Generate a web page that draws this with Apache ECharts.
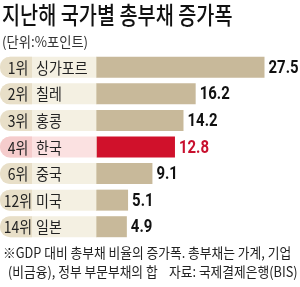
<!DOCTYPE html>
<html>
<head>
<meta charset="utf-8">
<script src="https://cdn.jsdelivr.net/npm/echarts@6/dist/echarts.min.js"></script>
<style>
html,body{margin:0;padding:0;background:#fff;}
#c{width:300px;height:287px;}
</style>
</head>
<body>
<div id="c"></div>
<script>
const ranks = ['1위','2위','3위','4위','6위','12위','14위'];
const countries = ['싱가포르','칠레','홍콩','한국','중국','미국','일본'];
const values = [27.5,16.2,14.2,12.8,9.1,5.1,4.9];
const highlight = '한국';
const titleText = '지난해 국가별 총부채 증가폭';
const unitText = '(단위:%포인트)';
const noteLine1 = '※GDP 대비 총부채 비율의 증가폭. 총부채는 가계, 기업';
const noteLine2 = '(비금융), 정부 부문부채의 합    자료: 국제결제은행(BIS)';

const KR = '"Noto Sans CJK KR", "Noto Sans", sans-serif';
const NUM = 'Roboto, "Liberation Sans", sans-serif';

const chart = echarts.init(document.getElementById('c'), null, {renderer:'canvas'});

const barData = values.map((v,i)=>({
  value: v,
  itemStyle: {color: countries[i]===highlight ? '#d0112b' : '#c8b99a'}
}));

function txt(t, x, y, size, weight, sx, color){
  return {type:'text', x:x, y:y, scaleX:sx, silent:true,
    style:{text:t, x:0, y:0, verticalAlign:'middle', align:'left',
      font: weight + ' ' + size + 'px ' + KR, fill: color}};
}

chart.setOption({
  animation: false,
  backgroundColor: '#fff',
  graphic: [
    txt(titleText, 2, 15, 24, 500, 0.82, '#111'),
    txt(unitText, 2, 42, 14, 400, 0.95, '#333'),
    txt(noteLine1, 3, 253, 14, 400, 0.91, '#222'),
    txt(noteLine2, 8, 272, 14, 400, 0.91, '#222')
  ],
  grid: {left: 97, right: 2, top: 54, bottom: 47, containLabel: false},
  xAxis: {type:'value', min: 0, max: 33, show: false},
  yAxis: {type:'category', data: countries, inverse: true, show: false},
  series: [
    {
      type: 'bar',
      data: barData,
      barWidth: 21
    },
    {
      type: 'custom',
      clip: false,
      data: values.map((v,i)=>[v,i]),
      encode: {x: 0, y: 1},
      renderItem: function(params, api){
        const i = params.dataIndex;
        const p = api.coord([0, api.value(1)]);
        const pe = api.coord([api.value(0), api.value(1)]);
        const h = 21;
        const x0 = p[0];
        const yTop = p[1] - h/2;
        const hl = countries[i]===highlight;
        return {
          type: 'group',
          children: [
            {type:'rect', shape:{x:0, y:yTop, width:x0, height:h, r:[10,0,0,10]},
             style:{fill: hl ? '#fbe1e1' : '#f4f0e2'}},
            {type:'rect', shape:{x:0, y:yTop, width:32, height:h, r:[10,0,0,10]},
             style:{fill: hl ? '#f5cccc' : '#e8dfc8'}},
            {type:'rect', shape:{x:x0-1, y:yTop, width:1, height:h},
             style:{fill: hl ? '#e8b0b0' : '#d8ceb4'}},
            {type:'text', x:18, y:p[1]+0.5, scaleX:0.87,
             style:{text: ranks[i], x:0, y:0, align:'center', verticalAlign:'middle',
              font: '400 16px ' + KR, fill:'#222'}},
            {type:'text', x:36, y:p[1]+0.5, scaleX:0.875,
             style:{text: countries[i], x:0, y:0, align:'left', verticalAlign:'middle',
              font: '400 16px ' + KR, fill:'#222'}},
            {type:'text', x:pe[0]+4, y:p[1]+1, scaleX:0.83,
             style:{text: String(values[i]), x:0, y:0, align:'left', verticalAlign:'middle',
              font: 'bold 18px ' + NUM, fill: hl ? '#c8102e' : '#111'}}
          ]
        };
      }
    }
  ]
});
</script>
</body>
</html>
